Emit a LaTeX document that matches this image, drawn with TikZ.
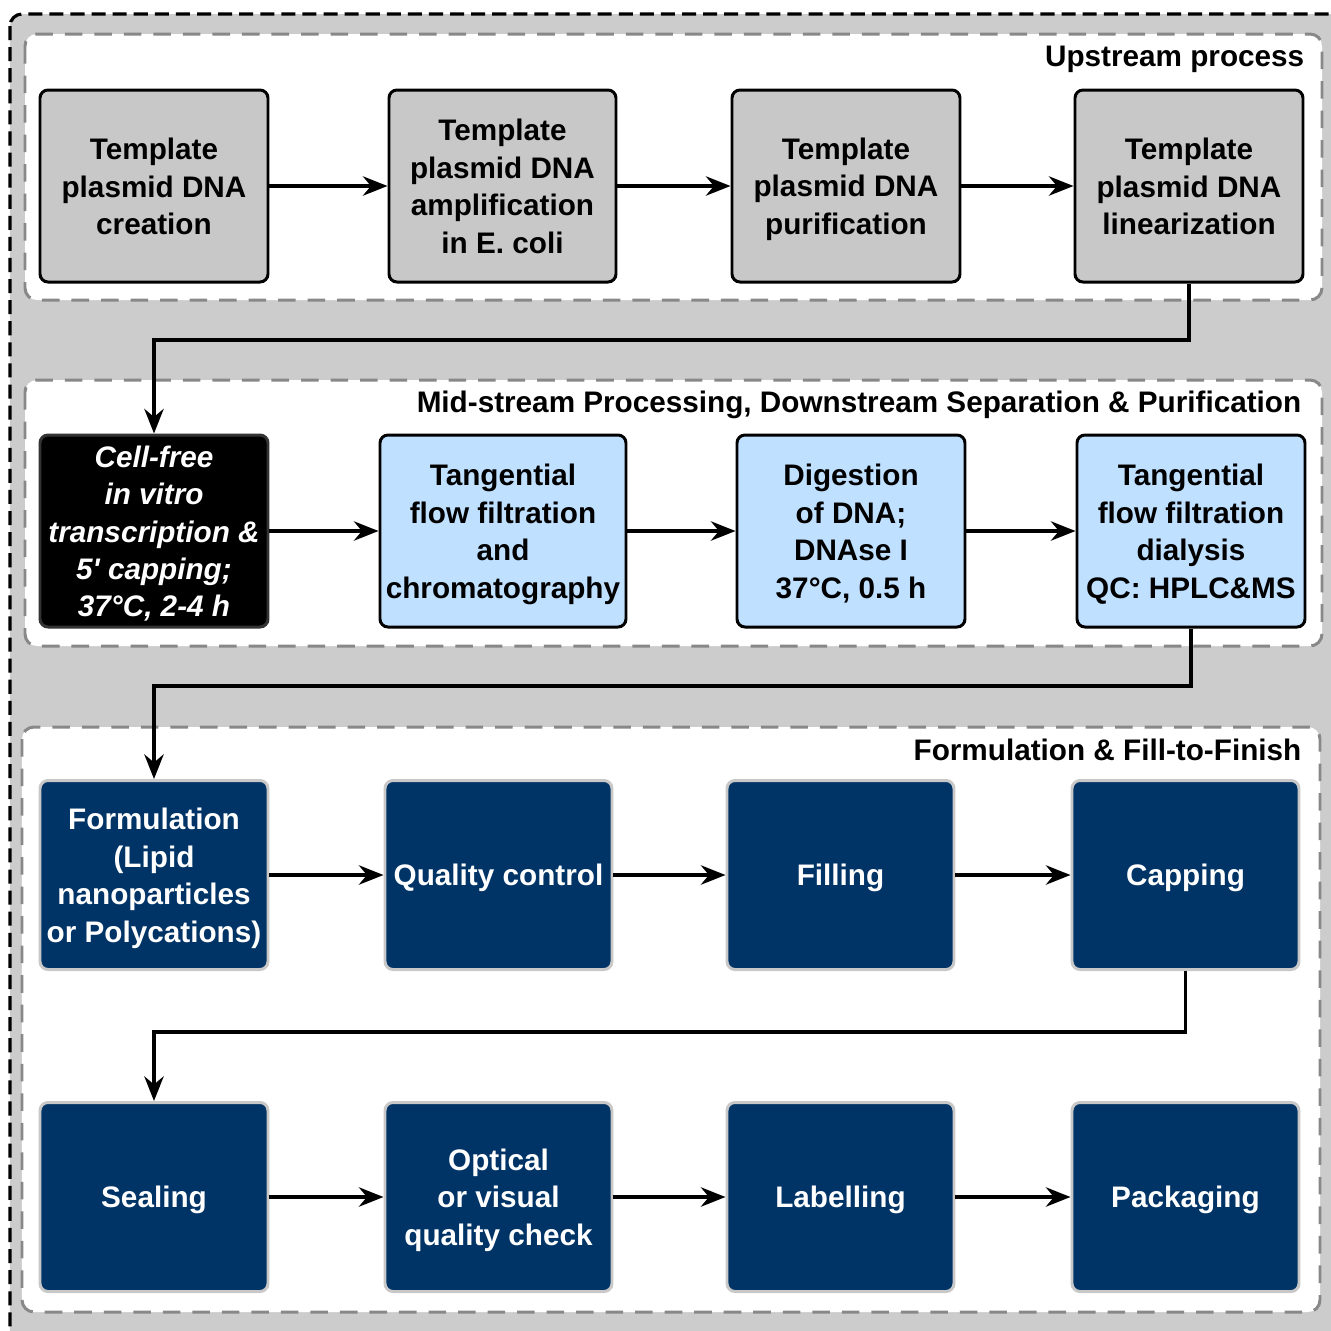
\documentclass[tikz,border=0pt]{standalone}
\usepackage{fontspec}
\setmainfont{Liberation Sans}
\usetikzlibrary{arrows.meta,calc}
\definecolor{bggray}{HTML}{CCCCCC}
\definecolor{boxgray}{HTML}{C8C8C8}
\definecolor{panelborder}{HTML}{888888}
\definecolor{lightblue}{HTML}{BFE0FF}
\definecolor{navy}{HTML}{003366}
\definecolor{navyborder}{HTML}{C8C8C8}
\newcommand\lstrut{\rule[-1.74pt]{0pt}{9.74pt}}
\newcommand\brk{\lstrut\\\lstrut}
\tikzset{
  basebox/.style={rounded corners=0.8mm, line width=0.85pt, align=center, inner sep=0pt,
    minimum width=22.8mm, minimum height=19.2mm, font=\fontsize{8.45}{10.65}\selectfont\bfseries},
  graybox/.style={basebox, fill=boxgray, draw=black},
  blackbox/.style={basebox, fill=black, draw=black!80, text=white, font=\fontsize{8.45}{10.65}\selectfont\bfseries\itshape},
  bluebox/.style={basebox, fill=lightblue, draw=black},
  navybox/.style={basebox, fill=navy, draw=navyborder, text=white, minimum height=18.9mm},
  panel/.style={fill=white, draw=panelborder, line width=0.85pt, dash pattern=on 5pt off 3.4pt, rounded corners=1.2mm},
  paneltitle/.style={anchor=east, inner sep=0pt, font=\fontsize{8.45}{10.65}\selectfont\bfseries},
  arr/.style={line width=1pt, -{Stealth[length=7pt,width=5.5pt]}},
}
\begin{document}
\begin{tikzpicture}[x=0.1mm,y=-0.1mm]
\useasboundingbox (0,0) rectangle (1331,1331);
% outer frame
\draw[fill=bggray, draw=black, line width=0.9pt, dash pattern=on 4pt off 2pt, rounded corners=1.2mm]
  (10,14) rectangle (1345,1345);
% panels
\draw[panel] (25,34) rectangle (1322,300);
\draw[panel] (25,380) rectangle (1322,646);
\draw[panel] (22,727) rectangle (1320,1312);
\node[paneltitle] (t1) at (1305,56) {\lstrut Upstream process};
\node[paneltitle] (t2) at (1302,402) {\lstrut Mid-stream Processing, Downstream Separation \& Purification};
\node[paneltitle] (t3) at (1302,749) {\lstrut Formulation \& Fill-to-Finish};
% row 1
\node[graybox] (b1) at (154,186) {\lstrut Template\brk plasmid DNA\brk creation\lstrut};
\node[graybox, minimum width=22.7mm] (b2) at (502.5,186) {\lstrut Template\brk plasmid DNA\brk amplification\brk in E. coli\lstrut};
\node[graybox] (b3) at (846,186) {\lstrut Template\brk plasmid DNA\brk purification\lstrut};
\node[graybox] (b4) at (1189,186) {\lstrut Template\brk plasmid DNA\brk linearization\lstrut};
% row 2
\node[blackbox] (b5) at (154,531) {\lstrut Cell-free\brk in vitro\brk transcription \&\brk 5\textquotesingle{} capping;\brk 37°C, 2-4 h\lstrut};
\node[bluebox, minimum width=24.6mm] (b6) at (503,531) {\lstrut Tangential\brk flow filtration\brk and\brk chromatography\lstrut};
\node[bluebox] (b7) at (851,531) {\lstrut Digestion\brk of DNA;\brk DNAse I\brk 37°C, 0.5 h\lstrut};
\node[bluebox] (b8) at (1191,531) {\lstrut Tangential\brk flow filtration\brk dialysis\brk QC: HPLC\&MS\lstrut};
% row 3
\node[navybox] (b9) at (154,875) {\lstrut Formulation\brk (Lipid\brk nanoparticles\brk or Polycations)\lstrut};
\node[navybox, minimum width=22.7mm] (b10) at (498.5,875) {\lstrut Quality control\lstrut};
\node[navybox, minimum width=22.7mm] (b11) at (840.5,875) {\lstrut Filling\lstrut};
\node[navybox, minimum width=22.7mm] (b12) at (1185.5,875) {\lstrut Capping\lstrut};
% row 4
\node[navybox] (b13) at (154,1197) {\lstrut Sealing\lstrut};
\node[navybox, minimum width=22.7mm] (b14) at (498.5,1197) {\lstrut Optical\brk or visual\brk quality check\lstrut};
\node[navybox, minimum width=22.7mm] (b15) at (840.5,1197) {\lstrut Labelling\lstrut};
\node[navybox, minimum width=22.7mm] (b16) at (1185.5,1197) {\lstrut Packaging\lstrut};
% connectors
\draw[arr] (b1) -- (b2);
\draw[arr] (b2) -- (b3);
\draw[arr] (b3) -- (b4);
\draw[arr] (b4.south) -- (b4.south |- 0,340) -| (b5.north);
\draw[arr] (b5) -- (b6);
\draw[arr] (b6) -- (b7);
\draw[arr] (b7) -- (b8);
\draw[arr] (b8.south) -- (b8.south |- 0,686) -| (b9.north);
\draw[arr] (b9) -- (b10);
\draw[arr] (b10) -- (b11);
\draw[arr] (b11) -- (b12);
\draw[arr] (b12.south) -- (b12.south |- 0,1032) -| (b13.north);
\draw[arr] (b13) -- (b14);
\draw[arr] (b14) -- (b15);
\draw[arr] (b15) -- (b16);
\end{tikzpicture}
\end{document}
